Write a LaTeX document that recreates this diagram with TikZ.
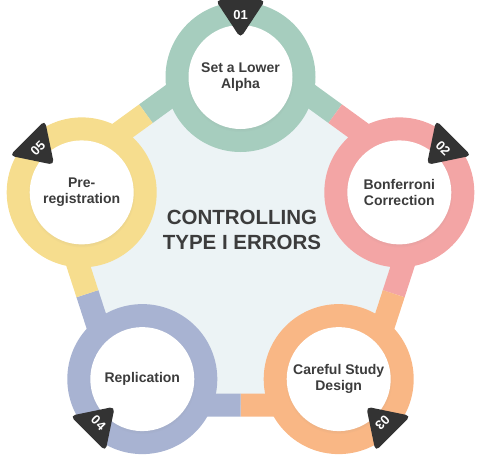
\documentclass[tikz,border=0pt]{standalone}
\usepackage{fontspec}
\setmainfont{Liberation Sans}
\usetikzlibrary{shadows}

\definecolor{cgreen}{RGB}{166,205,190}
\definecolor{cpink}{RGB}{243,165,165}
\definecolor{corange}{RGB}{249,183,133}
\definecolor{cblue}{RGB}{168,179,210}
\definecolor{cyellow}{RGB}{246,221,142}
\definecolor{cfill}{RGB}{236,243,245}
\definecolor{cdark}{RGB}{51,51,51}
\definecolor{ctext}{RGB}{60,60,60}

\begin{document}
\begin{tikzpicture}[x=1pt, y=1pt,
	band/.style={line width=23pt},
	ring/.style={circle, minimum size=150pt, inner sep=0pt},
	disc/.style={circle, fill=white, minimum size=104pt, inner sep=0pt, align=center, text=ctext, font=\bfseries\fontsize{14}{16.5}\selectfont, circular drop shadow={shadow scale=1.03, shadow xshift=0pt, shadow yshift=-1.5pt, opacity=0.2}},
	badge/.style={fill=cdark, rounded corners=5pt},
	num/.style={text=white, inner sep=0pt, font=\bfseries\fontsize{13}{13}\selectfont, transform shape},
	title/.style={align=center, text=ctext, font=\bfseries\fontsize{20.5}{25}\selectfont}
]
	\useasboundingbox (0,0) rectangle (481,467);
	
	\coordinate (p1) at (240.5,422);
	\coordinate (p2) at (429.8,284.5);
	\coordinate (p3) at (357.5,62);
	\coordinate (p4) at (123.5,62);
	\coordinate (p5) at (51.2,284.5);
	\coordinate (m1) at (335.2,353.3);
	\coordinate (m2) at (393.7,173.3);
	\coordinate (m3) at (240.5,62);
	\coordinate (m4) at (87.4,173.3);
	\coordinate (m5) at (145.9,353.3);
	
	\fill[cfill] (p1) -- (p2) -- (p3) -- (p4) -- (p5) -- cycle;
	\draw[band, cgreen] (m5) -- (p1) -- (m1);
	\draw[band, cpink] (m1) -- (p2) -- (m2);
	\draw[band, corange] (m2) -- (p3) -- (m3);
	\draw[band, cblue] (m3) -- (p4) -- (m4);
	\draw[band, cyellow] (m4) -- (p5) -- (m5);
	
	\node[ring, fill=cgreen] (r1) at (240.5,390) {};
	\node[ring, fill=cpink] (r2) at (399.3,274.6) {};
	\node[ring, fill=corange] (r3) at (338.7,87.9) {};
	\node[ring, fill=cblue] (r4) at (142.3,87.9) {};
	\node[ring, fill=cyellow] (r5) at (81.7,274.6) {};
	
	\node[disc] (d1) at (r1) {Set a Lower\\Alpha};
	\node[disc] (d2) at (r2) {Bonferroni\\Correction};
	\node[disc] (d3) at (r3) {Careful Study\\Design};
	\node[disc] (d4) at (r4) {Replication};
	\node[disc] (d5) at (r5) {Pre-\\registration};
	
	\begin{scope}[shift={(240.5,452)}, rotate=0]
		\fill[badge] (-25,15) -- (25,15) -- (0,-23) -- cycle;
		\node[num] (n1) at (0,0) {01};
	\end{scope}
	\begin{scope}[shift={(443.1,318.4)}, rotate=-45]
		\fill[badge] (-25,15) -- (25,15) -- (0,-23) -- cycle;
		\node[num] (n2) at (0,0) {02};
	\end{scope}
	\begin{scope}[shift={(382.5,44.1)}, rotate=-135]
		\fill[badge] (-25,15) -- (25,15) -- (0,-23) -- cycle;
		\node[num] (n3) at (0,0) {03};
	\end{scope}
	\begin{scope}[shift={(98.5,44.1)}, rotate=135]
		\fill[badge] (-25,15) -- (25,15) -- (0,-23) -- cycle;
		\node[num, rotate=180] (n4) at (0,0) {04};
	\end{scope}
	\begin{scope}[shift={(37.9,318.4)}, rotate=45]
		\fill[badge] (-25,15) -- (25,15) -- (0,-23) -- cycle;
		\node[num] (n5) at (0,0) {05};
	\end{scope}
	
	\node[title] (t) at (242,237) {CONTROLLING\\TYPE I ERRORS};
	
\end{tikzpicture}
\end{document}
